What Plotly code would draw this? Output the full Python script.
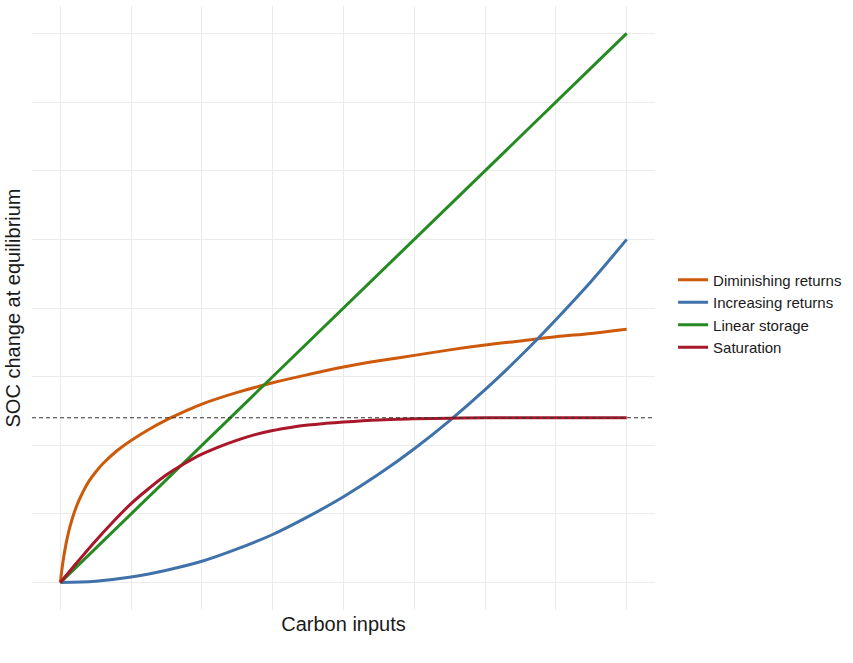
import plotly.graph_objects as go

# ---- data ----
dim_x = [0, 0.02, 0.04, 0.06, 0.08, 0.1, 0.13, 0.16, 0.2, 0.25, 0.3, 0.4, 0.5, 0.625,
         0.75, 0.875, 1.0, 1.25, 1.5, 1.75, 2.0, 2.25, 2.5, 2.75, 3.0, 3.25, 3.5, 3.75, 4.0]
dim_y = [0, 0.32, 0.56, 0.75, 0.90, 1.03, 1.19, 1.32, 1.47, 1.61, 1.73, 1.92, 2.07, 2.23,
         2.37, 2.49, 2.60, 2.77, 2.91, 3.03, 3.14, 3.23, 3.31, 3.39, 3.46, 3.52, 3.58, 3.63, 3.69]

inc_x = [0, 0.25, 0.5, 0.75, 1.0, 1.25, 1.5, 1.75, 2.0, 2.25, 2.5, 2.75, 3.0, 3.25, 3.5, 3.75, 4.0]
inc_y = [0, 0.02, 0.08, 0.18, 0.31, 0.49, 0.70, 0.96, 1.25, 1.58, 1.95, 2.36, 2.81, 3.30, 3.83, 4.39, 5.0]

lin_x = [0, 4.0]
lin_y = [0, 8.0]

sat_x = [0, 0.125, 0.25, 0.375, 0.5, 0.625, 0.75, 0.875, 1.0, 1.125, 1.25, 1.375, 1.5,
         1.625, 1.75, 1.875, 2.0, 2.25, 2.5, 2.75, 3.0, 3.5, 4.0]
sat_y = [0, 0.31, 0.61, 0.89, 1.15, 1.37, 1.57, 1.73, 1.87, 1.98, 2.075, 2.155, 2.215,
         2.26, 2.295, 2.32, 2.34, 2.37, 2.385, 2.395, 2.40, 2.40, 2.40]

saturation_level = 2.4

series = [
    ("Diminishing returns", dim_x, dim_y, "#CC5A0A"),
    ("Increasing returns", inc_x, inc_y, "#3F72AA"),
    ("Linear storage", lin_x, lin_y, "#258A22"),
    ("Saturation", sat_x, sat_y, "#A8172A"),
]

fig = go.Figure()
for name, xs, ys, col in series:
    fig.add_trace(go.Scatter(
        x=xs, y=ys, mode="lines", name=name,
        line=dict(color=col, width=3, shape="spline", smoothing=1.0),
    ))

fig.add_shape(type="line", xref="x domain", yref="y", x0=0, x1=1,
              y0=saturation_level, y1=saturation_level,
              line=dict(color="#333333", width=1.1, dash="4px,3px"))

font_family = "Liberation Sans, Arial, sans-serif"
fig.update_layout(
    width=853, height=663,
    margin=dict(l=32, r=198, t=6, b=53),
    plot_bgcolor="white", paper_bgcolor="white",
    font=dict(family=font_family, color="#000000"),
    showlegend=True,
    legend=dict(x=1.029, xanchor="left", y=0.491, yanchor="middle",
                font=dict(size=15, family=font_family, color="#1a1a1a"),
                bgcolor="rgba(0,0,0,0)", tracegroupgap=0),
    xaxis=dict(range=[-0.2, 4.2], dtick=0.5, tick0=0, showticklabels=False,
               ticks="", showgrid=True, gridcolor="#EBEBEB", gridwidth=1.1,
               zeroline=False, showline=False,
               title=dict(text="Carbon inputs", standoff=6,
                          font=dict(size=20, family=font_family, color="#1a1a1a"))),
    yaxis=dict(range=[-0.4, 8.4], dtick=1, tick0=0, showticklabels=False,
               ticks="", showgrid=True, gridcolor="#EBEBEB", gridwidth=1.1,
               zeroline=False, showline=False,
               title=dict(text="SOC change at equilibrium", standoff=5,
                          font=dict(size=20, family=font_family, color="#1a1a1a"))),
)

fig.write_html("out.html")
